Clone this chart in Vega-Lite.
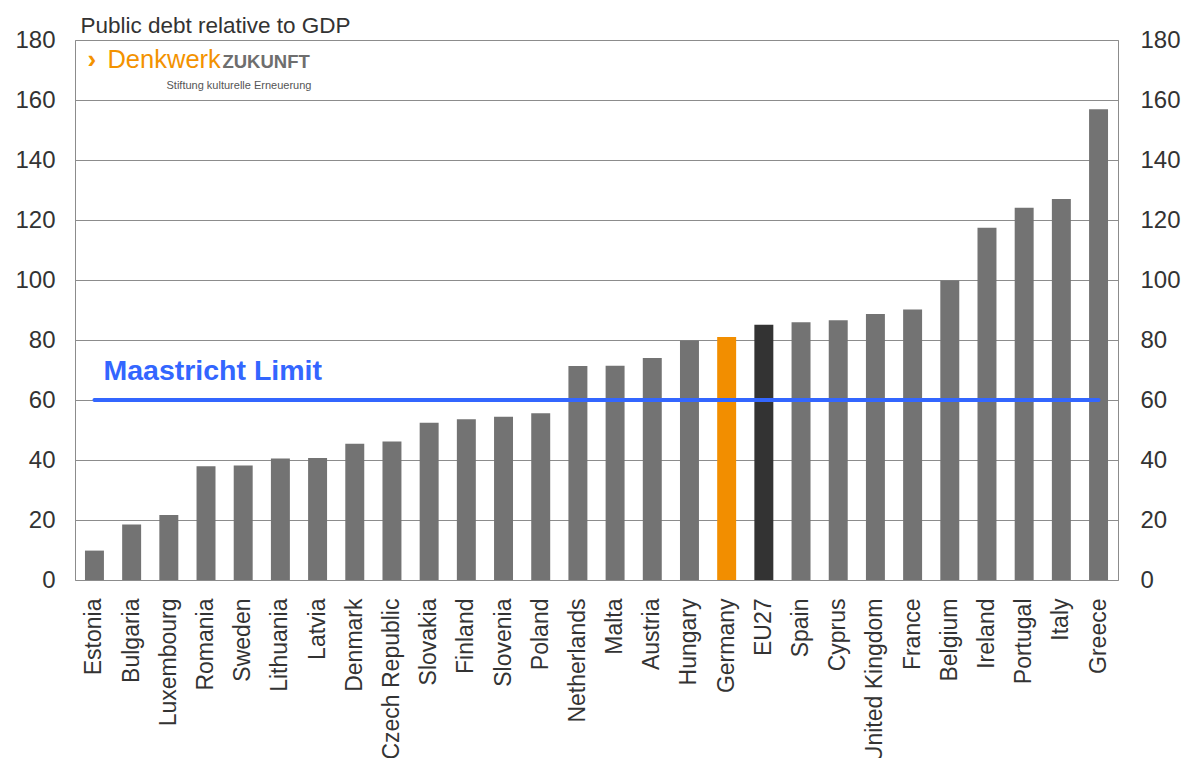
{
  "$schema": "https://vega.github.io/schema/vega-lite/v6.json",
  "width": 1043,
  "height": 540,
  "autosize": "none",
  "padding": {"left": 75, "top": 40, "right": 66, "bottom": 178},
  "background": "white",
  "config": {
    "view": {"stroke": "#8c8c8c", "strokeWidth": 1},
    "font": "Liberation Sans"
  },
  "data": {
    "values": [
      {"country": "Estonia", "debt": 9.8, "group": "Country"},
      {"country": "Bulgaria", "debt": 18.5, "group": "Country"},
      {"country": "Luxembourg", "debt": 21.7, "group": "Country"},
      {"country": "Romania", "debt": 37.9, "group": "Country"},
      {"country": "Sweden", "debt": 38.2, "group": "Country"},
      {"country": "Lithuania", "debt": 40.5, "group": "Country"},
      {"country": "Latvia", "debt": 40.7, "group": "Country"},
      {"country": "Denmark", "debt": 45.4, "group": "Country"},
      {"country": "Czech Republic", "debt": 46.2, "group": "Country"},
      {"country": "Slovakia", "debt": 52.4, "group": "Country"},
      {"country": "Finland", "debt": 53.6, "group": "Country"},
      {"country": "Slovenia", "debt": 54.4, "group": "Country"},
      {"country": "Poland", "debt": 55.6, "group": "Country"},
      {"country": "Netherlands", "debt": 71.3, "group": "Country"},
      {"country": "Malta", "debt": 71.4, "group": "Country"},
      {"country": "Austria", "debt": 74.0, "group": "Country"},
      {"country": "Hungary", "debt": 79.8, "group": "Country"},
      {"country": "Germany", "debt": 81.0, "group": "Germany"},
      {"country": "EU27", "debt": 85.1, "group": "EU27"},
      {"country": "Spain", "debt": 85.9, "group": "Country"},
      {"country": "Cyprus", "debt": 86.6, "group": "Country"},
      {"country": "United Kingdom", "debt": 88.7, "group": "Country"},
      {"country": "France", "debt": 90.2, "group": "Country"},
      {"country": "Belgium", "debt": 99.8, "group": "Country"},
      {"country": "Ireland", "debt": 117.4, "group": "Country"},
      {"country": "Portugal", "debt": 124.1, "group": "Country"},
      {"country": "Italy", "debt": 127.0, "group": "Country"},
      {"country": "Greece", "debt": 156.9, "group": "Country"}
    ]
  },
  "encoding": {
    "x": {
      "field": "country",
      "type": "nominal",
      "sort": null,
      "scale": {"paddingInner": 0.49, "paddingOuter": 0.268},
      "axis": {
        "title": null,
        "labelAngle": -90,
        "labelFontSize": 23,
        "labelColor": "#333333",
        "labelPadding": 18,
        "ticks": false,
        "domain": false,
        "labelOverlap": false
      }
    }
  },
  "layer": [
    {
      "mark": {"type": "bar"},
      "encoding": {
        "y": {
          "field": "debt",
          "type": "quantitative",
          "scale": {"domain": [0, 180], "nice": false},
          "axis": {
            "title": null,
            "values": [0, 20, 40, 60, 80, 100, 120, 140, 160, 180],
            "labelFontSize": 24,
            "labelColor": "#333333",
            "labelPadding": 20,
            "ticks": false,
            "domain": false,
            "grid": true,
            "gridColor": "#8c8c8c",
            "gridWidth": 1
          }
        },
        "color": {
          "field": "group",
          "type": "nominal",
          "scale": {"domain": ["Country", "Germany", "EU27"], "range": ["#737373", "#f28e00", "#333333"]},
          "legend": null
        }
      }
    },
    {
      "mark": {"type": "bar", "opacity": 0},
      "encoding": {
        "y": {
          "field": "debt",
          "type": "quantitative",
          "scale": {"domain": [0, 180], "nice": false},
          "axis": {
            "orient": "right",
            "title": null,
            "values": [0, 20, 40, 60, 80, 100, 120, 140, 160, 180],
            "labelFontSize": 24,
            "labelColor": "#333333",
            "labelPadding": 22,
            "ticks": false,
            "domain": false,
            "grid": false
          }
        }
      }
    },
    {
      "data": {"values": [{"label": "Maastricht Limit"}]},
      "mark": {"type": "rule", "color": "#3366ff", "strokeWidth": 4, "strokeCap": "round"},
      "encoding": {
        "x": {"datum": "Estonia"},
        "x2": {"datum": "Greece"},
        "y": {"datum": 60, "axis": null}
      }
    },
    {
      "data": {"values": [{"label": "Maastricht Limit"}]},
      "mark": {"type": "text", "color": "#3366ff", "fontSize": 28.5, "fontWeight": "bold", "align": "left", "baseline": "alphabetic", "dx": 9},
      "encoding": {
        "x": {"datum": "Estonia"},
        "y": {"datum": 66.7, "axis": null},
        "text": {"field": "label"}
      }
    },
    {
      "data": {"values": [{"label": "Public debt relative to GDP"}]},
      "mark": {"type": "text", "color": "#333333", "fontSize": 22.5, "fontWeight": "normal", "align": "left", "baseline": "alphabetic", "dx": -14},
      "encoding": {
        "x": {"datum": "Estonia"},
        "y": {"datum": 182.4, "axis": null},
        "text": {"field": "label"}
      }
    },
    {
      "data": {"values": [{"label": "›"}]},
      "mark": {"type": "text", "color": "#f39200", "fontSize": 26, "fontWeight": "bold", "align": "left", "baseline": "alphabetic", "dx": -7},
      "encoding": {
        "x": {"datum": "Estonia"},
        "y": {"datum": 170.7, "axis": null},
        "text": {"field": "label"}
      }
    },
    {
      "data": {"values": [{"label": "Denkwerk"}]},
      "mark": {"type": "text", "color": "#f39200", "fontSize": 25.5, "align": "left", "baseline": "alphabetic", "dx": 13},
      "encoding": {
        "x": {"datum": "Estonia"},
        "y": {"datum": 170.7, "axis": null},
        "text": {"field": "label"}
      }
    },
    {
      "data": {"values": [{"label": "ZUKUNFT"}]},
      "mark": {"type": "text", "color": "#6e6e6e", "fontSize": 18.5, "fontWeight": "bold", "align": "left", "baseline": "alphabetic", "dx": 128},
      "encoding": {
        "x": {"datum": "Estonia"},
        "y": {"datum": 170.7, "axis": null},
        "text": {"field": "label"}
      }
    },
    {
      "data": {"values": [{"label": "Stiftung kulturelle Erneuerung"}]},
      "mark": {"type": "text", "color": "#555555", "fontSize": 11, "align": "right", "baseline": "alphabetic", "dx": 217},
      "encoding": {
        "x": {"datum": "Estonia"},
        "y": {"datum": 163.8, "axis": null},
        "text": {"field": "label"}
      }
    }
  ],
  "resolve": {"axis": {"y": "independent"}}
}
